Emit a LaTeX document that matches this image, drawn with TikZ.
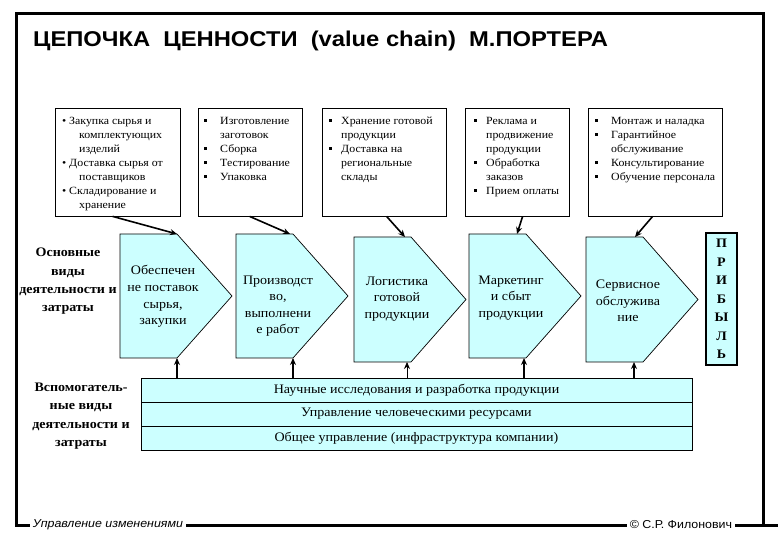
\documentclass[tikz,border=0pt]{standalone}
\usepackage{fontspec}
\setmainfont{Liberation Serif}[FakeStretch=1.08]
\newfontfamily\titlefont{Liberation Sans}[FakeStretch=1.08]
\newfontfamily\titlewide{Liberation Sans}[FakeStretch=1.11]
\usetikzlibrary{arrows.meta,calc}
\definecolor{pcyan}{RGB}{204,255,255}
\newcommand\rbul{\makebox[7pt][l]{\textbullet}}
\newcommand\sqbul[1]{\makebox[#1][l]{\raisebox{2.2pt}{\rule{2.6pt}{2.6pt}}}}
\newcommand\indt[1]{\hspace*{#1}}
\begin{document}
\begin{tikzpicture}[x=1pt,y=-1pt,
  topbox/.style={draw, line width=0.8pt, fill=white, inner sep=0pt},
  boxtext/.style={anchor=north west, inner sep=0pt, align=left, font=\fontsize{11}{14}\selectfont},
  pent/.style={draw, line width=0.7pt, fill=pcyan},
  ptext/.style={align=center, inner sep=0pt, font=\fontsize{13}{16.5}\selectfont},
  lab/.style={align=center, inner sep=0pt, font=\bfseries\fontsize{13}{18.3}\selectfont},
  profit/.style={draw, line width=2pt, fill=pcyan, align=center, inner sep=0pt,
     minimum width=31, minimum height=132, font=\bfseries\fontsize{13}{18.5}\selectfont},
  barrow/.style={draw, line width=0.9pt, fill=pcyan, inner sep=0pt,
     minimum width=551, minimum height=24, font=\fontsize{13}{15}\selectfont},
  arr/.style={-{Stealth[length=7pt,width=6pt]}, line width=1.6pt},
  thinarr/.style={-{Stealth[length=7pt,width=6pt]}, line width=0.8pt},
  foot/.style={fill=white, inner xsep=3pt, inner ysep=1pt, font=\titlefont\fontsize{11.5}{13}\selectfont}
]
\useasboundingbox (0,0) rectangle (780,540);

% frame
\draw[line width=3pt] (16,14) rectangle (763,525);
\draw[line width=3pt] (763,525) -- (778,525);
\node[foot, font=\titlefont\itshape\fontsize{11.5}{13}\selectfont] (f1) at (108,525) {Управление изменениями};
\node[foot] (f2) at (681,525) {© С.Р. Филонович};

% title
\node[anchor=base west, inner sep=0pt, font=\titlewide\bfseries\fontsize{21.4}{24}\selectfont] (title) at (33,47)
  {ЦЕПОЧКА\ \ ЦЕННОСТИ\ \ (value chain)\ \ М.ПОРТЕРА};

% top boxes
\node[topbox, minimum width=125, minimum height=108] (b1) at (117.5,162) {};
\node[topbox, minimum width=104, minimum height=108] (b2) at (250,162) {};
\node[topbox, minimum width=124, minimum height=108] (b3) at (384,162) {};
\node[topbox, minimum width=104, minimum height=108] (b4) at (517,162) {};
\node[topbox, minimum width=134, minimum height=108] (b5) at (655,162) {};

\node[boxtext] (t1) at (62,114.2) {\strut\rbul Закупка сырья и\\ \indt{17pt}комплектующих\\ \indt{17pt}изделий\\
  \rbul Доставка сырья от\\ \indt{17pt}поставщиков\\ \rbul Складирование и\\ \indt{17pt}хранение};
\node[boxtext] (t2) at (204,114.2) {\strut\sqbul{16pt}Изготовление\\ \indt{16pt}заготовок\\ \sqbul{16pt}Сборка\\
  \sqbul{16pt}Тестирование\\ \sqbul{16pt}Упаковка};
\node[boxtext] (t3) at (329,114.2) {\strut\sqbul{12pt}Хранение готовой\\ \indt{12pt}продукции\\ \sqbul{12pt}Доставка на\\
  \indt{12pt}региональные\\ \indt{12pt}склады};
\node[boxtext] (t4) at (474,114.2) {\strut\sqbul{12pt}Реклама и\\ \indt{12pt}продвижение\\ \indt{12pt}продукции\\
  \sqbul{12pt}Обработка\\ \indt{12pt}заказов\\ \sqbul{12pt}Прием оплаты};
\node[boxtext] (t5) at (595,114.2) {\strut\sqbul{16pt}Монтаж и наладка\\ \sqbul{16pt}Гарантийное\\ \indt{16pt}обслуживание\\
  \sqbul{16pt}Консультирование\\ \sqbul{16pt}Обучение персонала};

% pentagons
\foreach \i/\l/\t/\b in {1/120/234/358, 2/236/234/358, 3/354/237/362, 4/469/234/358, 5/586/237/362}{
  \draw[pent] (\l,\t) -- (\l+57,\t) -- (\l+112,{(\t+\b)/2}) -- (\l+57,\b) -- (\l,\b) -- cycle;
  \coordinate (p\i tr) at (\l+57,\t);
  \coordinate (p\i br) at (\l+57,\b);
}
\node[ptext] (x1) at (163,296.5) {Обеспечен\\не поставок\\сырья,\\закупки};
\node[ptext] (x2) at (278,306) {Производст\\во,\\выполнени\\е работ};
\node[ptext] (x3) at (397,299) {Логистика\\готовой\\продукции};
\node[ptext] (x4) at (511,298) {Маркетинг\\и сбыт\\продукции};
\node[ptext] (x5) at (628,301) {Сервисное\\обслужива\\ние};

% profit
\node[profit] (pr) at (721.5,299) {П\\Р\\И\\Б\\Ы\\Л\\Ь};

% left labels
\node[lab] (l1) at (68,281.5) {Основные\\виды\\деятельности и\\затраты};
\node[lab] (l2) at (81,416) {Вспомогатель-\\ные виды\\деятельности и\\затраты};

% support bar
\node[barrow] (r1) at (416.5,390) {Научные исследования и разработка продукции};
\node[barrow] (r2) at (416.5,414) {Управление человеческими ресурсами};
\node[barrow] (r3) at (416.5,438) {Общее управление (инфраструктура компании)};

% arrows from top boxes
\draw[arr] ($(b1.south west)+(58,0)$) -- (p1tr);
\draw[arr] ($(b2.south west)+(52,0)$) -- ($(p2tr)+(-3,0)$);
\draw[arr] ($(b3.south west)+(65,0)$) -- ($(p3tr)+(-6,0)$);
\draw[arr] ($(b4.south west)+(58,0)$) -- ($(p4tr)+(-9,0)$);
\draw[arr] ($(b5.south west)+(65,0)$) -- ($(p5tr)+(-8,0)$);

% arrows from support bar
\coordinate (e1) at (p1br);
\coordinate (e2) at (p2br);
\coordinate (e3) at ($(p3br)+(-4,0)$);
\coordinate (e4) at ($(p4br)+(-2,0)$);
\coordinate (e5) at ($(p5br)+(-9,0)$);
\draw[arr] (r1.north -| e1) -- (e1);
\draw[arr] (r1.north -| e2) -- (e2);
\draw[thinarr] (r1.north -| e3) -- (e3);
\draw[arr] (r1.north -| e4) -- (e4);
\draw[arr] (r1.north -| e5) -- (e5);
\end{tikzpicture}
\end{document}
